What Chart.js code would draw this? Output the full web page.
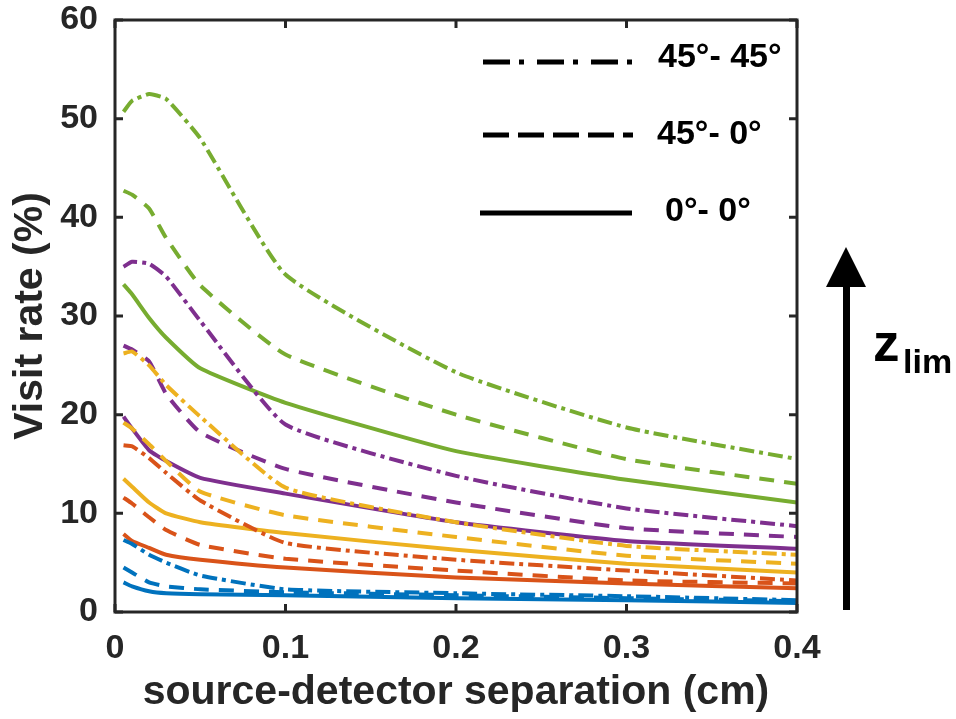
<!DOCTYPE html>
<html>
<head>
<meta charset="utf-8">
<script src="https://cdn.jsdelivr.net/npm/chart.js@4/dist/chart.umd.min.js"></script>
<style>
  html, body { margin: 0; padding: 0; background: #ffffff; }
  canvas { display: block; }
</style>
</head>
<body>
<canvas id="c" width="956" height="719"></canvas>
<script>
// ---- data ----
const xValues = [0.005, 0.01, 0.02, 0.03, 0.05, 0.1, 0.2, 0.3, 0.4];
const xTickLabels = ['0', '0.1', '0.2', '0.3', '0.4'];
const yTickLabels = ['0', '10', '20', '30', '40', '50', '60'];
const xTitle = 'source-detector separation (cm)';
const yTitle = 'Visit rate (%)';
const legendLabels = ['45°- 45°', '45°- 0°', '0°- 0°'];
const arrowLabelMain = 'z';
const arrowLabelSub = 'lim';

// blue
const blueSolid   = [3.0, 2.6, 2.1, 1.9, 1.8, 1.7, 1.4, 1.2, 0.9];
const blueDash    = [4.5, 4.0, 3.0, 2.6, 2.3, 2.0, 1.7, 1.4, 1.1];
const blueDashDot = [7.3, 6.9, 5.8, 5.0, 3.7, 2.3, 1.9, 1.6, 1.2];
// orange
const orangeSolid   = [7.9, 7.2, 6.5, 5.8, 5.3, 4.5, 3.5, 2.9, 2.4];
const orangeDash    = [11.6, 11.0, 9.6, 8.3, 6.8, 5.4, 4.2, 3.2, 2.9];
const orangeDashDot = [16.9, 16.8, 15.6, 14.1, 11.3, 7.0, 5.3, 4.2, 3.2];
// yellow
const yellowSolid   = [13.5, 12.7, 11.1, 10.0, 9.1, 8.0, 6.3, 4.9, 4.0];
const yellowDash    = [19.2, 18.6, 17.0, 15.3, 12.2, 9.8, 7.6, 5.7, 4.9];
const yellowDashDot = [26.2, 26.4, 25.0, 23.0, 19.8, 12.6, 9.1, 6.7, 5.8];
// purple
const purpleSolid   = [19.8, 18.6, 16.4, 15.3, 13.6, 12.0, 9.1, 7.2, 6.4];
const purpleDash    = [27.0, 26.6, 25.4, 22.1, 18.2, 14.5, 11.1, 8.5, 7.6];
const purpleDashDot = [35.0, 35.5, 35.3, 34.0, 29.5, 19.0, 13.8, 10.5, 8.7];
// green
const greenSolid   = [33.2, 32.2, 29.8, 27.8, 24.7, 21.2, 16.3, 13.4, 11.1];
const greenDash    = [42.7, 42.3, 40.9, 37.9, 33.1, 26.1, 20.0, 15.5, 13.0];
const greenDashDot = [50.7, 51.8, 52.5, 52.0, 48.0, 34.2, 24.3, 18.7, 15.5];

// ---- styles ----
const COL = { blue: '#0072BD', orange: '#D95319', yellow: '#EDB120', purple: '#7E2F8E', green: '#77AC30' };
const DASH = { solid: [], dash: [15, 10], dashDot: [15, 5, 4, 5] };
const AX = '#262626';
const FONT = '"Liberation Sans", Arial, Helvetica, sans-serif';

function series(values, color, style) {
  return {
    data: values.map((v, i) => ({ x: xValues[i], y: v })),
    borderColor: color,
    backgroundColor: color,
    borderWidth: 4,
    borderDash: DASH[style],
    borderCapStyle: 'butt',
    borderJoinStyle: 'round',
    pointRadius: 0,
    fill: false,
    tension: 0.15
  };
}

const datasets = [
  series(blueSolid, COL.blue, 'solid'),
  series(blueDash, COL.blue, 'dash'),
  series(blueDashDot, COL.blue, 'dashDot'),
  series(orangeSolid, COL.orange, 'solid'),
  series(orangeDash, COL.orange, 'dash'),
  series(orangeDashDot, COL.orange, 'dashDot'),
  series(yellowSolid, COL.yellow, 'solid'),
  series(yellowDash, COL.yellow, 'dash'),
  series(yellowDashDot, COL.yellow, 'dashDot'),
  series(purpleSolid, COL.purple, 'solid'),
  series(purpleDash, COL.purple, 'dash'),
  series(purpleDashDot, COL.purple, 'dashDot'),
  series(greenSolid, COL.green, 'solid'),
  series(greenDash, COL.green, 'dash'),
  series(greenDashDot, COL.green, 'dashDot')
];

const decor = {
  id: 'decor',
  afterDraw(chart) {
    const ctx = chart.ctx;
    const a = chart.chartArea;
    const xs = chart.scales.x, ys = chart.scales.y;
    ctx.save();
    // box
    ctx.strokeStyle = AX;
    ctx.lineWidth = 3;
    ctx.setLineDash([]);
    ctx.strokeRect(a.left, a.top, a.right - a.left, a.bottom - a.top);
    // inward ticks
    const tl = 8;
    xs.ticks.forEach(t => {
      const px = xs.getPixelForValue(t.value);
      ctx.beginPath();
      ctx.moveTo(px, a.bottom); ctx.lineTo(px, a.bottom - tl);
      ctx.moveTo(px, a.top); ctx.lineTo(px, a.top + tl);
      ctx.stroke();
    });
    ys.ticks.forEach(t => {
      const py = ys.getPixelForValue(t.value);
      ctx.beginPath();
      ctx.moveTo(a.left, py); ctx.lineTo(a.left + tl, py);
      ctx.moveTo(a.right, py); ctx.lineTo(a.right - tl, py);
      ctx.stroke();
    });
    // legend
    const legendRows = [
      { y: 62, x0: 483, x1: 633, dash: [27, 9, 5, 13], tx: 658, ty: 58 },
      { y: 135, x0: 483, x1: 633, dash: [26, 9], tx: 657, ty: 135 },
      { y: 213, x0: 480, x1: 632, dash: [], tx: 665, ty: 212 }
    ];
    legendRows.forEach((r, i) => {
      ctx.strokeStyle = '#000';
      ctx.lineWidth = 5;
      ctx.lineCap = 'butt';
      ctx.setLineDash(r.dash);
      ctx.beginPath();
      ctx.moveTo(r.x0, r.y); ctx.lineTo(r.x1, r.y);
      ctx.stroke();
      ctx.setLineDash([]);
      ctx.fillStyle = '#000';
      ctx.font = 'bold 34px ' + FONT;
      ctx.textBaseline = 'middle';
      ctx.textAlign = 'left';
      ctx.fillText(legendLabels[i], r.tx, r.ty);
    });
    // arrow
    ctx.fillStyle = '#000';
    ctx.fillRect(843, 284, 7, 326);
    ctx.beginPath();
    ctx.moveTo(826, 287); ctx.lineTo(866, 287); ctx.lineTo(846, 247);
    ctx.closePath();
    ctx.fill();
    ctx.textBaseline = 'alphabetic';
    ctx.font = 'bold 53px ' + FONT;
    ctx.fillText(arrowLabelMain, 873, 361);
    ctx.font = 'bold 34px ' + FONT;
    ctx.fillText(arrowLabelSub, 903, 373);
    ctx.restore();
  }
};

function zeroPad(s) {
  s.paddingTop = 0; s.paddingBottom = 0; s.paddingLeft = 0; s.paddingRight = 0;
}

new Chart(document.getElementById('c'), {
  type: 'line',
  data: { datasets },
  plugins: [decor],
  options: {
    responsive: false,
    animation: false,
    events: [],
    layout: { autoPadding: false, padding: { left: 0, right: 159, top: 20, bottom: 0 } },
    plugins: { legend: { display: false }, tooltip: { enabled: false } },
    scales: {
      x: {
        type: 'linear', min: 0, max: 0.4,
        grid: { display: false, drawTicks: false },
        border: { display: false },
        ticks: {
          stepSize: 0.1, padding: 16, color: AX, maxRotation: 0,
          font: { family: FONT, size: 34, weight: 'bold' },
          callback: (v, i) => xTickLabels[i]
        },
        title: {
          display: true, text: xTitle, color: AX, padding: { top: 0, bottom: 2 },
          font: { family: FONT, size: 41, weight: 'bold' }
        },
        afterFit: s => { s.height = 107; zeroPad(s); }
      },
      y: {
        min: 0, max: 60,
        grid: { display: false, drawTicks: false },
        border: { display: false },
        ticks: {
          stepSize: 10, padding: 17, color: AX,
          font: { family: FONT, size: 34, weight: 'bold' },
          callback: (v, i) => yTickLabels[i]
        },
        title: {
          display: true, text: yTitle, color: AX, padding: { top: 6, bottom: 0 },
          font: { family: FONT, size: 41, weight: 'bold' }
        },
        afterFit: s => { s.width = 115; zeroPad(s); }
      }
    }
  }
});
</script>
</body>
</html>
